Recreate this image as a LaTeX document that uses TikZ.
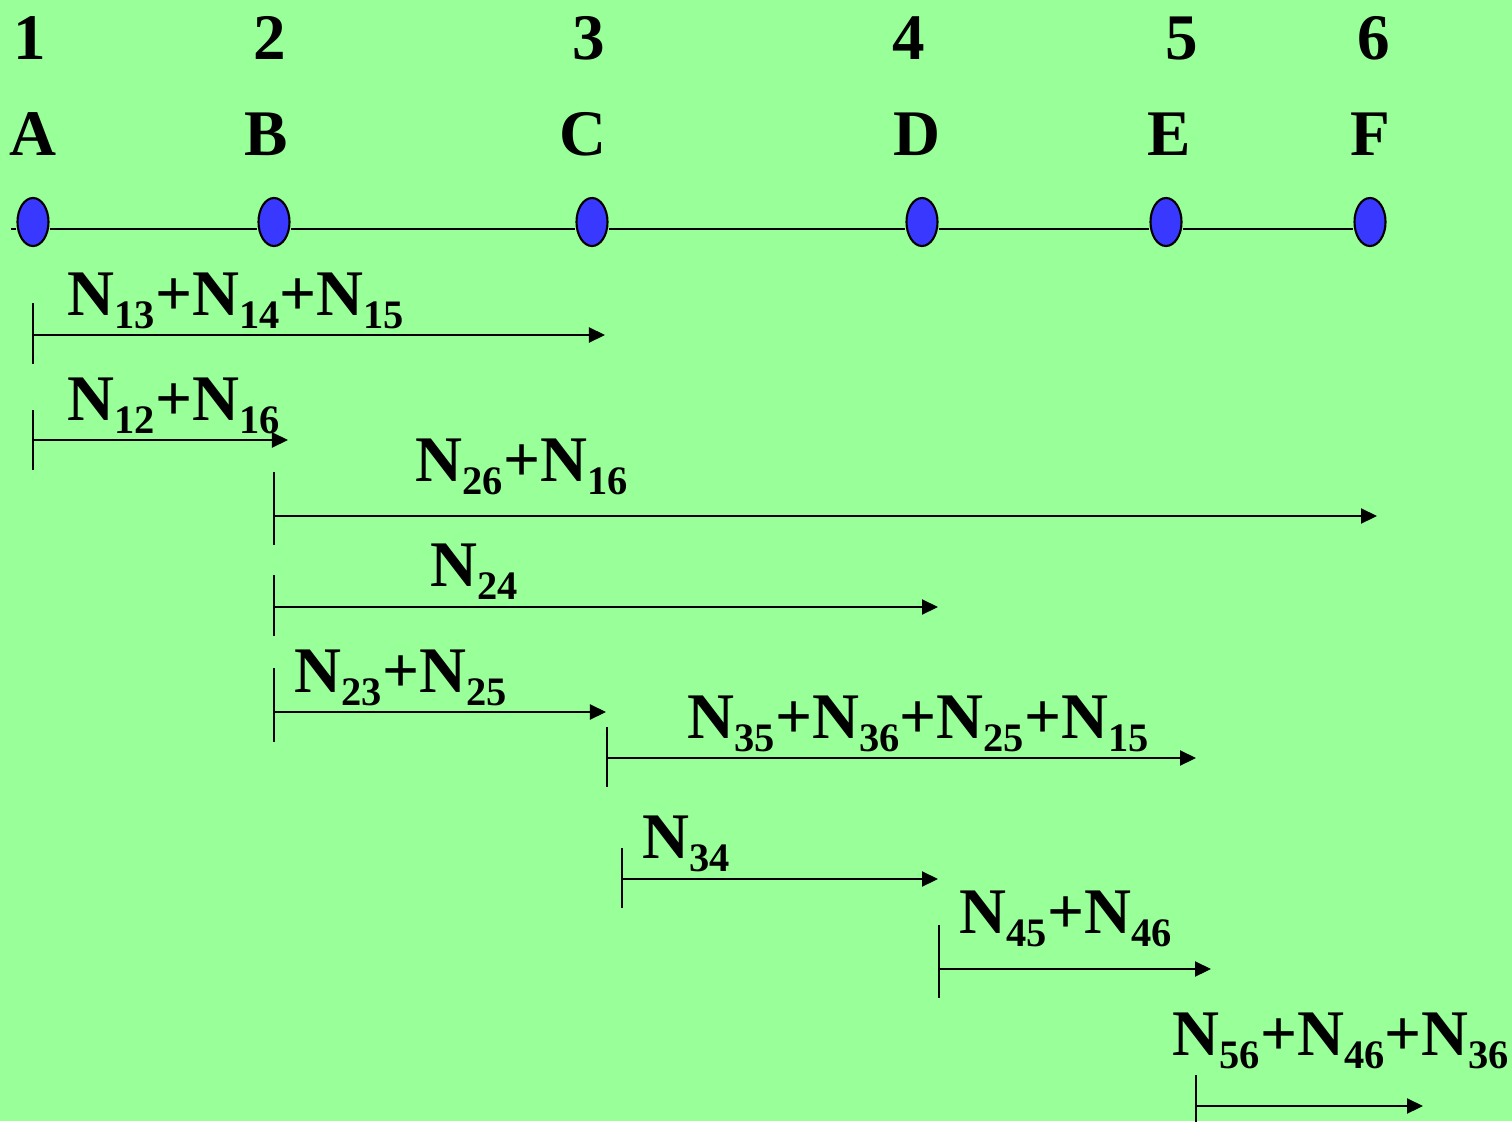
\documentclass[tikz,border=0pt]{standalone}
\usepackage{fontspec}
\setmainfont{Liberation Serif}
\usetikzlibrary{arrows.meta, positioning, shapes.geometric}
\definecolor{bggreen}{HTML}{99FF99}
\definecolor{dotblue}{HTML}{3838FF}
\newcommand{\Nsub}[1]{N\raisebox{-3.7pt}{\fontsize{11.5}{11.5}\selectfont #1}}

\begin{document}
\begin{tikzpicture}[
    x=0.01cm, y=-0.01cm,
    station/.style={
        ellipse, draw, fill=dotblue, line width=0.6pt,
        minimum width=0.31cm, minimum height=0.48cm, inner sep=0pt
    },
    head/.style={
        inner sep=0pt, anchor=base,
        font=\fontsize{18.5}{18.5}\selectfont\bfseries
    },
    lbl/.style={
        inner sep=0pt, anchor=base west,
        font=\fontsize{18.5}{18.5}\selectfont\bfseries
    },
    axis/.style={line width=0.6pt},
    span/.style={-{Triangle[length=0.16cm, width=0.15cm]}, line width=0.6pt},
    tick/.style={line width=0.6pt},
]
\fill[bggreen] (0,0) rectangle (1512,1121);
\useasboundingbox (0,0) rectangle (1512,1121);

\node[head] (n1) at (30,59) {1};
\node[head] (n2) at (270,59) {2};
\node[head] (n3) at (589,59) {3};
\node[head] (n4) at (909,59) {4};
\node[head] (n5) at (1182,59) {5};
\node[head] (n6) at (1374,59) {6};
\node[head] (lA) at (33,155) {A};
\node[head] (lB) at (266,155) {B};
\node[head] (lC) at (583,155) {C};
\node[head] (lD) at (917,155) {D};
\node[head] (lE) at (1169,155) {E};
\node[head] (lF) at (1370,155) {F};

\coordinate (lstart) at (11,229);
\node[station] (A) at (33,222) {};
\node[station] (B) at (274,222) {};
\node[station] (C) at (592,222) {};
\node[station] (D) at (922,222) {};
\node[station] (E) at (1166,222) {};
\node[station] (F) at (1370,222) {};
\draw[axis] (lstart) -- (A.west |- lstart);
\draw[axis] (A.east |- lstart) -- (B.west |- lstart);
\draw[axis] (B.east |- lstart) -- (C.west |- lstart);
\draw[axis] (C.east |- lstart) -- (D.west |- lstart);
\draw[axis] (D.east |- lstart) -- (E.west |- lstart);
\draw[axis] (E.east |- lstart) -- (F.west |- lstart);

\coordinate (s1) at (33,335);   \coordinate (e1) at (605,335);
\coordinate (s2) at (33,440);   \coordinate (e2) at (288,440);
\coordinate (s3) at (274,516);  \coordinate (e3) at (1377,516);
\coordinate (s4) at (274,607);  \coordinate (e4) at (938,607);
\coordinate (s5) at (274,712);  \coordinate (e5) at (606,712);
\coordinate (s6) at (607,758);  \coordinate (e6) at (1196,758);
\coordinate (s7) at (622,879);  \coordinate (e7) at (938,879);
\coordinate (s8) at (939,969);  \coordinate (e8) at (1211,969);
\coordinate (s9) at (1196,1106); \coordinate (e9) at (1423,1106);

\draw[span] (s1) -- (e1);
\draw[span] (s2) -- (e2);
\draw[span] (s3) -- (e3);
\draw[span] (s4) -- (e4);
\draw[span] (s5) -- (e5);
\draw[span] (s6) -- (e6);
\draw[span] (s7) -- (e7);
\draw[span] (s8) -- (e8);
\draw[span] (s9) -- (e9);

\draw[tick] (s1) ++(0,-32) -- ++(0,61);
\draw[tick] (s2) ++(0,-30) -- ++(0,60);
\draw[tick] (s3) ++(0,-44) -- ++(0,73);
\draw[tick] (s4) ++(0,-32) -- ++(0,61);
\draw[tick] (s5) ++(0,-44) -- ++(0,74);
\draw[tick] (s6) ++(0,-31) -- ++(0,60);
\draw[tick] (s7) ++(0,-31) -- ++(0,60);
\draw[tick] (s8) ++(0,-44) -- ++(0,73);
\draw[tick] (s9) ++(0,-31) -- ++(0,60);

\node[lbl] (t1) at (67,315)   {\Nsub{13}+\Nsub{14}+\Nsub{15}};
\node[lbl] (t2) at (67,420)   {\Nsub{12}+\Nsub{16}};
\node[lbl] (t3) at (415,481)  {\Nsub{26}+\Nsub{16}};
\node[lbl] (t4) at (430,586)  {\Nsub{24}};
\node[lbl] (t5) at (294,692)  {\Nsub{23}+\Nsub{25}};
\node[lbl] (t6) at (687,738)  {\Nsub{35}+\Nsub{36}+\Nsub{25}+\Nsub{15}};
\node[lbl] (t7) at (642,858)  {\Nsub{34}};
\node[lbl] (t8) at (959,933)  {\Nsub{45}+\Nsub{46}};
\node[lbl] (t9) at (1172,1055) {\Nsub{56}+\Nsub{46}+\Nsub{36}};
\end{tikzpicture}
\end{document}
